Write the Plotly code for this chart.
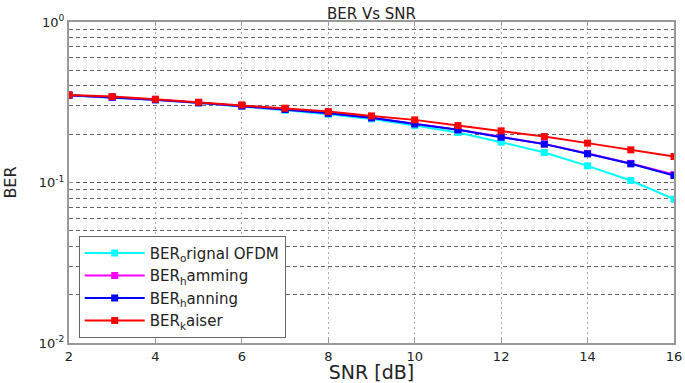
import plotly.graph_objects as go

snr = [2, 3, 4, 5, 6, 7, 8, 9, 10, 11, 12, 13, 14, 15, 16]
ber_original = [0.349, 0.339, 0.327, 0.313, 0.298, 0.282, 0.266, 0.249, 0.2263, 0.2048, 0.1784, 0.1537, 0.1270, 0.1029, 0.0788]
ber_hamming = [0.350, 0.340, 0.328, 0.314, 0.300, 0.285, 0.271, 0.253, 0.2325, 0.2135, 0.1925, 0.1740, 0.1515, 0.1315, 0.1120]
ber_hanning = [0.350, 0.340, 0.328, 0.314, 0.300, 0.285, 0.270, 0.253, 0.2318, 0.2128, 0.1917, 0.1734, 0.1509, 0.1307, 0.1105]
ber_kaiser = [0.3512, 0.3429, 0.3304, 0.3164, 0.3044, 0.2904, 0.2765, 0.2600, 0.2456, 0.2263, 0.2098, 0.1933, 0.1759, 0.1598, 0.1451]

names = ["BER<sub>o</sub>rignal OFDM", "BER<sub>h</sub>amming", "BER<sub>h</sub>anning", "BER<sub>k</sub>aiser"]
colors = ["#00FFFF", "#FF00FF", "#0000FF", "#FF0000"]
series = [ber_original, ber_hamming, ber_hanning, ber_kaiser]

x_ticks = [2, 4, 6, 8, 10, 12, 14, 16]
y_ticks = [1e-2, 1e-1, 1]
y_ticktext = ["10<sup>-2</sup>", "10<sup>-1</sup>", "10<sup>0</sup>"]
y_minor = [m * 10 ** e for e in (-2, -1) for m in range(2, 10)]

fig = go.Figure()
for name, col, ys in zip(names, colors, series):
    fig.add_trace(go.Scatter(
        x=snr, y=ys, name=name, mode="lines+markers",
        line=dict(color=col, width=2),
        marker=dict(symbol="square", size=7, color=col),
    ))

font_family = "DejaVu Sans, Liberation Sans, Arial, sans-serif"
fig.update_layout(
    width=685, height=383,
    margin=dict(l=69, r=11, t=22, b=40),
    paper_bgcolor="white", plot_bgcolor="white",
    font=dict(family=font_family, size=13, color="#222222"),
    title=dict(text="BER Vs SNR", xref="paper", x=0.5, xanchor="center",
               yref="container", y=0.978, yanchor="top",
               font=dict(size=15, color="#222222")),
    showlegend=True,
    legend=dict(
        x=0.016, y=0.016, xanchor="left", yanchor="bottom",
        bgcolor="white", bordercolor="#666666", borderwidth=1,
        font=dict(size=15, color="#222222"),
        itemwidth=60, entrywidth=160, entrywidthmode="pixels",
        tracegroupgap=0,
    ),
    xaxis=dict(
        range=[2, 16], tickvals=x_ticks, automargin=False,
        title=dict(text="SNR [dB]", font=dict(size=19), standoff=0),
        showgrid=True, gridcolor="#AAAAAA", griddash="2px,3px", gridwidth=1,
        showline=True, linecolor="#999999", linewidth=2, mirror="ticks",
        ticks="inside", ticklen=4, tickcolor="#999999",
        zeroline=False,
    ),
    yaxis=dict(
        type="log", range=[-2, 0], automargin=False,
        tickvals=y_ticks, ticktext=y_ticktext,
        title=dict(text="BER", font=dict(size=16), standoff=18),
        showgrid=True, gridcolor="#555555", griddash="4px,3px", gridwidth=1,
        minor=dict(tickvals=y_minor, showgrid=True, gridcolor="#666666",
                   griddash="4px,3px", gridwidth=1, ticks=""),
        showline=True, linecolor="#999999", linewidth=2, mirror="ticks",
        ticks="inside", ticklen=4, tickcolor="#999999",
        zeroline=False,
    ),
)

fig.write_html("out.html", config={"displayModeBar": False},
               post_script="document.body.style.margin='0';")
